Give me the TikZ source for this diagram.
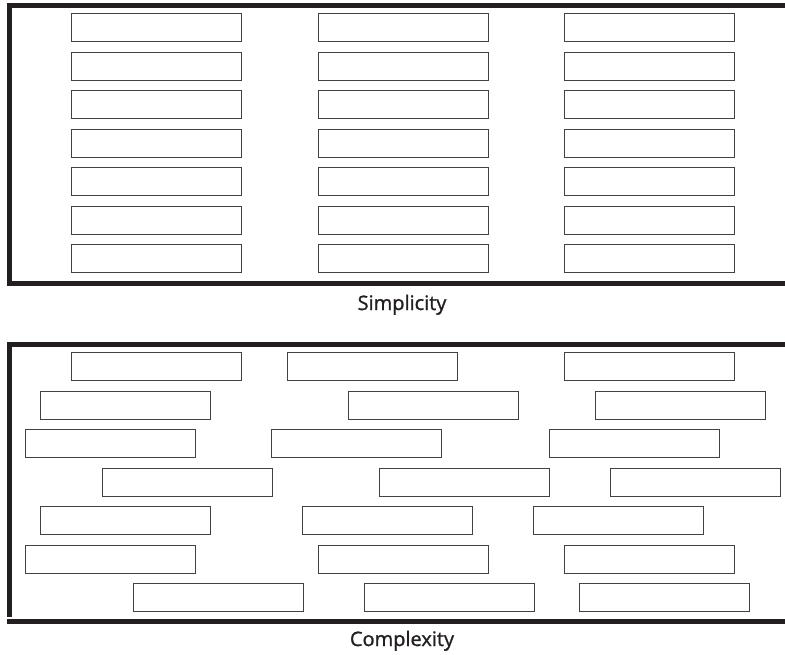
\documentclass[tikz,border=0pt]{standalone}
\usepackage{fontspec}
\setmainfont{Open Sans}
\newfontfamily\capfont[FakeBold=1.2]{Open Sans}
\definecolor{ink}{HTML}{231F20}
\begin{document}
\begin{tikzpicture}[x=1pt,y=-1pt,
  slot/.style={draw=ink!85, line width=1.3pt, fill=white, minimum width=170pt,
    minimum height=28pt, inner sep=0pt, anchor=north west},
  frame/.style={draw=ink, line width=5pt},
  caption/.style={font=\capfont\fontsize{20}{22}\selectfont, text=ink, inner sep=0pt, anchor=base}]
\useasboundingbox (0,0) rectangle (785,654);

% upper panel: three even columns
\draw[frame] (785,5.5) -- (9.5,5.5) -- (9.5,283) -- (785,283);
\foreach \r in {0,...,6}{
  \foreach \c/\x in {a/71,b/318,c/564}{
    \node[slot] (s\r\c) at (\x,{13+38.5*\r}) {};
  }
}
\node[caption] (simp) at (402,310) {Simplicity};

% lower panel: staggered rows
\draw[frame] (785,344.5) -- (9.5,344.5) -- (9.5,616.5);
\draw[frame] (7,621.5) -- (785,621.5);
\foreach \r/\xa/\xb/\xc in {0/71/287/564, 1/40/348/595, 2/25/271/549,
    3/102/379/610, 4/40/302/533, 5/25/318/564, 6/133/364/579}{
  \node[slot] (k\r a) at (\xa,{352+38.5*\r}) {};
  \node[slot] (k\r b) at (\xb,{352+38.5*\r}) {};
  \node[slot] (k\r c) at (\xc,{352+38.5*\r}) {};
}
\node[caption] (comp) at (402,646) {Complexity};
\end{tikzpicture}
\end{document}
